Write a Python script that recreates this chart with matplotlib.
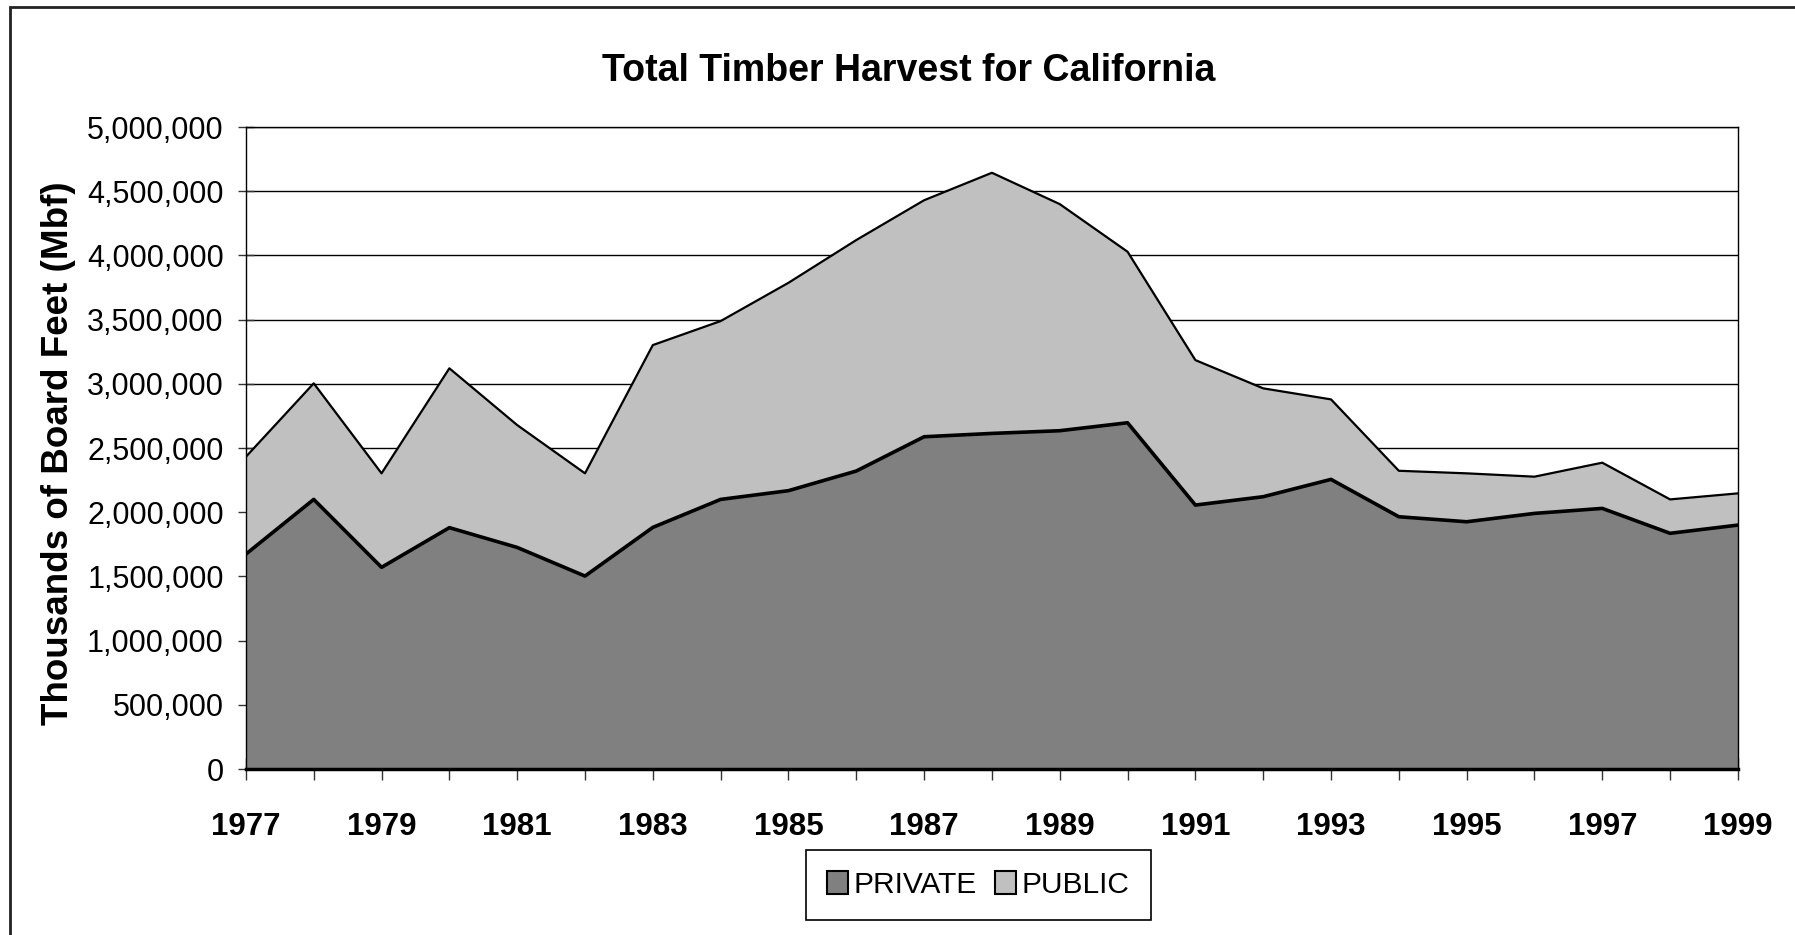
import numpy as np
import matplotlib
matplotlib.use('Agg')
import matplotlib.pyplot as plt
from matplotlib.patches import Patch, Rectangle
from matplotlib.ticker import FuncFormatter, MultipleLocator

years = list(range(1977, 2000))
private = [1674000, 2100000, 1571000, 1880000, 1726000, 1503000, 1882000, 2100000,
           2168000, 2321000, 2588000, 2614000, 2635000, 2697000, 2056000, 2121000,
           2256000, 1965000, 1926000, 1991000, 2030000, 1836000, 1900000]
public = [758000, 904000, 732000, 1241000, 953000, 800000, 1420000, 1389000,
          1619000, 1799000, 1842000, 2030000, 1765000, 1332000, 1129000, 844000,
          623000, 358000, 377000, 286000, 356000, 264000, 247000]
series_names = ['PRIVATE', 'PUBLIC']
x_labels = [str(y) if (y - 1977) % 2 == 0 else '' for y in years]

font = 'Liberation Sans'

fig = plt.figure(figsize=(17.95, 9.35), dpi=100)
ax = fig.add_axes([0.1370, 0.1775, 0.8312, 0.6866])

total = np.array(private) + np.array(public)
ax.fill_between(years, 0, private, color='#808080', lw=0, zorder=2)
ax.fill_between(years, private, total, color='#c0c0c0', lw=0, zorder=2)
ax.plot(years, total, color='black', lw=1.6, zorder=3)
ax.plot(years, private, color='black', lw=2.6, zorder=4)

ax.set_xlim(1977, 1999)
ax.set_ylim(0, 5000000)
ax.yaxis.set_major_locator(MultipleLocator(500000))
ax.yaxis.set_major_formatter(FuncFormatter(lambda v, p: f'{v:,.0f}'))
ax.set_xticks(years)
ax.set_xticklabels(x_labels)
ax.grid(axis='y', color='black', lw=1.0, zorder=1)
ax.set_axisbelow(True)

for s in ['left', 'top', 'right']:
    ax.spines[s].set_linewidth(1.0)
ax.spines['bottom'].set_linewidth(2.5)
ax.spines['bottom'].set_zorder(5)

ax.tick_params(axis='x', direction='inout', length=16, width=1, pad=23, color='#333333')
ax.tick_params(axis='y', direction='inout', length=12, width=1, pad=10, color='#333333')
for lab in ax.get_xticklabels():
    lab.set_fontfamily(font)
    lab.set_fontweight('bold')
    lab.set_fontsize(22.5)
for lab in ax.get_yticklabels():
    lab.set_fontfamily(font)
    lab.set_fontsize(22)

fig.text(0.506, 0.924, 'Total Timber Harvest for California', ha='center', va='center',
         fontsize=27, fontweight='bold', family=font)
fig.text(0.0325, 0.5155, 'Thousands of Board Feet (Mbf)', rotation=90, ha='center', va='center',
         fontsize=26.5, fontweight='bold', family=font)

handles = [Patch(facecolor='#808080', edgecolor='black', lw=1.5),
           Patch(facecolor='#c0c0c0', edgecolor='black', lw=1.5)]
leg = fig.legend(handles, series_names, loc='center', bbox_to_anchor=(0.545, 0.0535), ncol=2,
                 fancybox=False, edgecolor='black', framealpha=1,
                 prop={'family': font, 'size': 21.5},
                 handlelength=0.7, handleheight=0.8, handletextpad=0.2, columnspacing=0.6,
                 borderpad=0.7)
leg.get_frame().set_linewidth(1.2)

fig.patches.append(Rectangle((10 / 1795, -0.1), 1.2, 1 - 7 / 935 + 0.1, fill=False,
                             edgecolor='#222222', lw=2, transform=fig.transFigure))

fig.savefig('out.png', dpi=100)
